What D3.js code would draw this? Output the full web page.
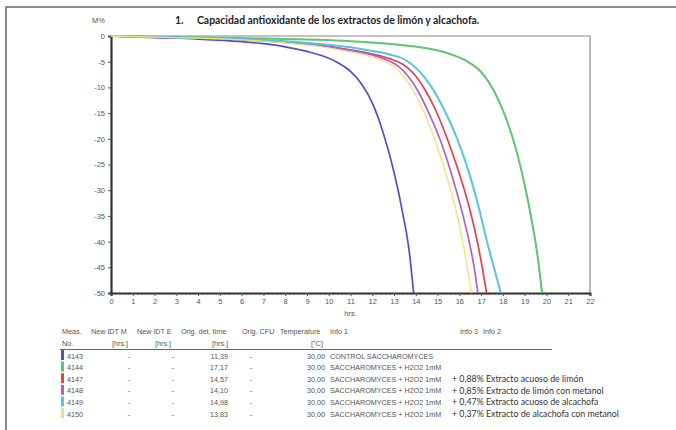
<!DOCTYPE html>
<html>
<head>
<meta charset="utf-8">
<script src="https://cdn.jsdelivr.net/npm/d3@7"></script>
<style>
  body { margin: 0; background: #fff; }
  svg { display: block; }
</style>
</head>
<body>
<div id="chart"></div>
<script>
// measurement ids and colours
const measIds = ["4143", "4144", "4147", "4148", "4149", "4150"];
const colors = ["#5a4cc4", "#62c46e", "#e0424e", "#b55ec6", "#5cc2e2", "#ece37a"];
const widths = [1.7, 2, 1.7, 1.7, 2, 1.3];

// curves [hrs, M%]
const s4143 = [[0,0],[2,-0.3],[4,-0.6],[6,-1.1],[7,-1.5],[8,-2.1],[9,-3],[9.8,-4],[10.5,-5.4],[11,-6.9],[11.5,-9.3],[12,-13],[12.5,-18.8],[13,-26.5],[13.4,-34.5],[13.7,-42],[13.9,-50]];
const s4144 = [[0,0],[3,-0.2],[6,-0.4],[9,-0.7],[11,-1],[13,-1.6],[14.5,-2.4],[15.5,-3.4],[16.3,-4.8],[17,-7],[17.6,-10.8],[18.1,-15.5],[18.6,-22],[19,-29],[19.35,-36.5],[19.6,-43],[19.8,-50]];
const s4147 = [[0,0],[3,-0.3],[6,-0.7],[8,-1.2],[10,-2],[11,-2.7],[12,-3.5],[12.8,-4.4],[13.4,-5.5],[13.9,-7.3],[14.4,-10.3],[14.9,-14.3],[15.4,-19.5],[15.9,-25.5],[16.4,-32.5],[16.8,-39.5],[17.05,-45],[17.25,-50]];
const s4148 = [[0,0],[3,-0.3],[6,-0.7],[8,-1.25],[10,-2.1],[11,-2.8],[12,-3.7],[12.7,-4.7],[13.2,-5.9],[13.6,-7.6],[14.1,-10.7],[14.6,-15],[15.1,-20],[15.6,-26.3],[16.05,-33],[16.45,-40],[16.7,-45.5],[16.85,-50]];
const s4149 = [[0,0],[3,-0.3],[6,-0.6],[8,-1],[10,-1.7],[11,-2.2],[12,-2.9],[12.8,-3.6],[13.5,-4.6],[14.1,-6.6],[14.7,-9.8],[15.3,-14.3],[15.9,-20],[16.4,-26],[16.9,-33.5],[17.3,-40.5],[17.65,-46],[17.9,-50]];
const s4150 = [[0,0],[3,-0.3],[6,-0.75],[8,-1.35],[10,-2.3],[11,-3.1],[12,-4.1],[12.6,-5],[13.1,-6.3],[13.5,-8.2],[13.9,-10.8],[14.4,-15],[14.9,-20.5],[15.4,-27],[15.85,-34],[16.2,-41],[16.4,-46],[16.55,-50]];
const series = [s4143, s4144, s4147, s4148, s4149, s4150];

// table
const newIdtM = ["-", "-", "-", "-", "-", "-"];
const newIdtE = ["-", "-", "-", "-", "-", "-"];
const detTime = ["11,39", "17,17", "14,57", "14,10", "14,98", "13,83"];
const origCfu = ["-", "-", "-", "-", "-", "-"];
const temps = ["30,00", "30,00", "30,00", "30,00", "30,00", "30,00"];
const info1 = ["CONTROL SACCHAROMYCES", "SACCHAROMYCES + H2O2 1mM", "SACCHAROMYCES + H2O2 1mM",
  "SACCHAROMYCES + H2O2 1mM", "SACCHAROMYCES + H2O2 1mM", "SACCHAROMYCES + H2O2 1mM"];
const extra = ["", "", "+ 0,88% Extracto acuoso de limón", "+ 0,85% Extracto de limón con metanol",
  "+ 0,47% Extracto acuoso de alcachofa", "+ 0,37% Extracto de alcachofa con metanol"];

const xTicks = d3.range(0, 23);
const yTicks = d3.range(0, -51, -5);

const W = 676, H = 430;
const margin = {top: 36, right: 86, bottom: 137, left: 111};

const svg = d3.select("#chart").append("svg")
  .attr("width", W).attr("height", H)
  .style("font-family", "'Liberation Sans', Arial, sans-serif");

// outer frame
svg.append("path")
  .attr("d", `M6,${H} V7 H${W}`)
  .attr("fill", "none").attr("stroke", "#666").attr("stroke-width", 1.5);

const x = d3.scaleLinear().domain([0, 22]).range([margin.left, W - margin.right]);
const y = d3.scaleLinear().domain([0, -50]).range([margin.top, H - margin.bottom]);

// top/right border
svg.append("path")
  .attr("d", `M${x(0)},${y(0)} H${x(22)} V${y(-50)}`)
  .attr("fill", "none").attr("stroke", "#888").attr("stroke-width", 1.2);

// minor ticks on x
svg.append("g")
  .attr("transform", `translate(0,${y(-50)})`)
  .call(d3.axisBottom(x).tickValues(d3.range(0, 22.01, 0.2)).tickSize(2).tickFormat(""))
  .call(g => g.select(".domain").remove())
  .call(g => g.selectAll("line").attr("stroke", "#999"));

const xAxis = svg.append("g")
  .attr("transform", `translate(0,${y(-50)})`)
  .call(d3.axisBottom(x).tickValues(xTicks).tickSize(3).tickPadding(3).tickFormat(d => String(d)));
xAxis.select(".domain").attr("stroke", "#333").attr("stroke-width", 2.2);
xAxis.selectAll("line").attr("stroke", "#555");
xAxis.selectAll("text").attr("fill", "#555").style("font-size", "7.5px");

const yAxis = svg.append("g")
  .attr("transform", `translate(${x(0)},0)`)
  .call(d3.axisLeft(y).tickValues(yTicks).tickSize(3).tickPadding(3).tickFormat(d => String(d)));
yAxis.select(".domain").attr("stroke", "#333").attr("stroke-width", 2.2);
yAxis.selectAll("line").attr("stroke", "#555");
yAxis.selectAll("text").attr("fill", "#555").style("font-size", "7.5px");

svg.append("text").attr("x", x(11)).attr("y", 316).attr("text-anchor", "middle")
  .attr("fill", "#555").style("font-size", "7.5px").text("hrs.");

svg.append("text").attr("x", 92).attr("y", 23)
  .attr("fill", "#555").style("font-size", "7.5px").text("M%");

const title = svg.append("text").attr("y", 24)
  .style("font-family", "Lato, 'Open Sans', sans-serif").style("font-weight", "bold")
  .style("font-size", "10.4px").attr("fill", "#222");
title.append("tspan").attr("x", 175).text("1.");
title.append("tspan").attr("x", 197).text("Capacidad antioxidante de los extractos de limón y alcachofa.");

// curves
const line = d3.line().x(d => x(d[0])).y(d => y(d[1])).curve(d3.curveMonotoneX);
svg.append("g").selectAll("path")
  .data(series)
  .join("path")
  .attr("d", line)
  .attr("fill", "none")
  .attr("stroke", (d, i) => colors[i])
  .attr("stroke-width", (d, i) => widths[i]);

// table
const tbl = svg.append("g").attr("fill", "#555").style("font-size", "7.2px");
const hdr1 = [["Meas.", 62, "start"], ["New IDT M", 91, "start"], ["New IDT E", 137, "start"],
  ["Orig. det. time", 181, "start"], ["Orig. CFU", 242, "start"], ["Temperature", 280, "start"],
  ["Info 1", 330, "start"], ["Info 3", 460, "start"], ["Info 2", 483, "start"]];
const hdr2 = [["No.", 62, "start"], ["[hrs.]", 128, "end"], ["[hrs.]", 171, "end"],
  ["[hrs.]", 228, "end"], ["[°C]", 323, "end"]];
hdr1.forEach(h => tbl.append("text").attr("x", h[1]).attr("y", 334).attr("text-anchor", h[2]).text(h[0]));
hdr2.forEach(h => tbl.append("text").attr("x", h[1]).attr("y", 346).attr("text-anchor", h[2]).text(h[0]));
tbl.append("line").attr("x1", 60).attr("x2", 552).attr("y1", 349.5).attr("y2", 349.5)
  .attr("stroke", "#666").attr("stroke-width", 1);

const rowY = i => 356 + i * 11.6;
measIds.forEach((id, i) => {
  const yy = rowY(i);
  tbl.append("rect").attr("x", 61).attr("y", yy - 6).attr("width", 3).attr("height", 10).attr("fill", colors[i]);
  tbl.append("text").attr("x", 67).attr("y", yy + 2.5).text(id);
  tbl.append("text").attr("x", 129).attr("y", yy + 2.5).attr("text-anchor", "middle").text(newIdtM[i]);
  tbl.append("text").attr("x", 173).attr("y", yy + 2.5).attr("text-anchor", "middle").text(newIdtE[i]);
  tbl.append("text").attr("x", 228).attr("y", yy + 2.5).attr("text-anchor", "end").text(detTime[i]);
  tbl.append("text").attr("x", 251).attr("y", yy + 2.5).attr("text-anchor", "middle").text(origCfu[i]);
  tbl.append("text").attr("x", 325).attr("y", yy + 2.5).attr("text-anchor", "end").text(temps[i]);
  tbl.append("text").attr("x", 330).attr("y", yy + 2.5).text(info1[i]);
  tbl.append("text").attr("x", 452).attr("y", yy + 3)
    .style("font-family", "Lato, 'Open Sans', sans-serif").style("font-size", "8.8px")
    .attr("fill", "#333").text(extra[i]);
});
</script>
</body>
</html>
